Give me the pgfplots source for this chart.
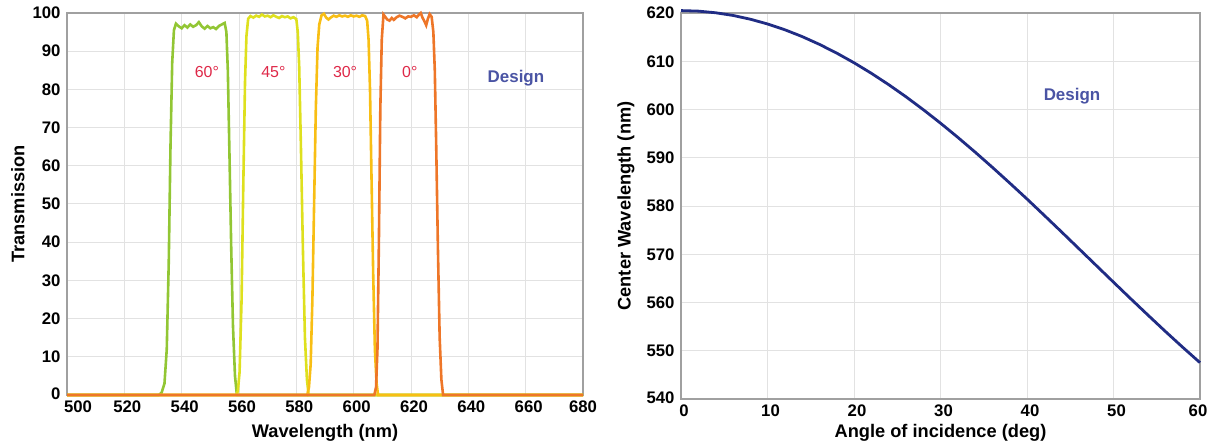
\documentclass[border=0pt]{standalone}
\usepackage{fontspec}
\setmainfont{Liberation Sans}
\usepackage{pgfplots}
\usepackage{pgfplotstable}
\pgfplotsset{compat=1.18}
\definecolor{cgreen}{RGB}{146,198,52}
\definecolor{cyellow}{RGB}{222,224,30}
\definecolor{cgold}{RGB}{248,190,20}
\definecolor{corange}{RGB}{238,118,40}
\definecolor{cnavy}{RGB}{32,44,132}
\definecolor{clab}{RGB}{222,40,72}
\definecolor{cdesign}{RGB}{74,84,164}
\definecolor{cgrid}{RGB}{226,226,226}
\definecolor{cframe}{RGB}{160,160,160}

\pgfplotstableread{
x y
500 0
532 0
533 0.6
534 3
534.8 12
535.5 35
536.1 65
536.7 87
537.3 95.5
538 97.2
539 96.5
540 96.0
541 96.8
542 96.2
543 97.0
544 96.4
545 96.8
546 97.6
547 96.5
548 95.9
549 96.6
550 96.0
551 96.3
552 95.8
553 96.6
554 97.0
555 97.4
555.6 95
556.1 85
556.7 62
557.3 38
557.9 18
558.6 5
559.2 0.5
559.5 0
680 0
}\tsixty

\pgfplotstableread{
x y
500 0
559 0
559.6 1
560.2 6
560.9 25
561.5 55
562.1 82
562.6 94
563.2 98.5
564 99.2
565 98.8
566 99.3
567 99.0
568 99.6
569 99.1
570 99.3
571 98.9
572 99.4
573 99.0
574 98.7
575 99.2
576 98.9
577 99.1
578 98.6
579 98.9
580 98.4
580.5 95
581 86
581.6 65
582.3 38
583 15
583.7 4
584.3 0
680 0
}\tfortyfive

\pgfplotstableread{
x y
500 0
583.8 0
584.4 2
585 8
585.6 25
586.2 50
586.8 75
587.4 91
588 97
588.8 99.4
589.6 99.8
590.4 98.8
591.2 98.3
592 98.8
593 99.3
594 99.0
595 99.4
596 99.1
597 99.3
598 99.0
599 99.4
600 99.1
601 99.3
602 99.0
603 99.4
604 99.2
604.7 98
605.2 93
605.7 80
606.2 58
606.8 32
607.4 12
608 3
608.5 0
680 0
}\tthirty

\pgfplotstableread{
x y
500 0
607.2 0
607.8 2
608.3 12
608.8 40
609.3 75
609.8 93
610.4 99.6
611 99.0
611.7 98.3
612.5 98.0
613.3 98.7
614 98.2
615 98.9
616 99.3
617 99.0
618 98.6
619 99.1
620 99.0
621 99.4
622 98.9
622.8 99.6
623.4 100
624 98.8
624.7 97.8
625.3 96.8
625.9 98.5
626.5 99.7
627.2 99.0
627.8 95
628.3 85
628.8 65
629.4 38
630 15
630.6 4
631.2 0
680 0
}\tzero

\pgfplotstableread{
x y
0 620.50
2 620.39
4 620.05
6 619.50
8 618.72
10 617.73
12 616.53
14 615.12
16 613.50
18 611.69
20 609.69
22 607.51
24 605.16
26 602.65
28 599.98
30 597.17
32 594.23
34 591.17
36 588.01
38 584.76
40 581.45
42 578.05
44 574.62
46 571.15
48 567.68
50 564.21
52 560.76
54 557.36
56 554.00
58 550.72
60 547.53
}\tcenter

\pgfplotsset{mystyle/.style={
  scale only axis,
  clip=false,
  axis line style={cframe,line width=1.5bp},
  grid=major,
  major grid style={cgrid,line width=1bp},
  major tick length=0pt,
  tick label style={font=\fontsize{16.8}{19}\selectfont\bfseries},
  label style={font=\fontsize{18.3}{21}\selectfont\bfseries},
  /pgf/number format/assume math mode=true,
  /pgf/number format/1000 sep={},
  xticklabel style={yshift=-2bp,xshift=3bp},
  yticklabel style={xshift=-3bp},
}}

\begin{document}
\begin{tikzpicture}
\path[use as bounding box] (0,0) rectangle (1209bp,445bp);

\begin{axis}[mystyle,
  at={(67bp,50bp)}, anchor=south west,
  width=516bp, height=382bp,
  xmin=500, xmax=680, ymin=0, ymax=100,
  xtick={500,520,...,680}, ytick={0,10,...,100},
  xticklabels={\hspace*{16bp}500,520,540,560,580,600,620,640,660,680\hspace*{6bp}},
  yticklabels={\raisebox{3bp}{0},10,20,30,40,50,60,70,80,90,100},
  xlabel={Wavelength (nm)}, ylabel={Transmission},
  xlabel style={at={(axis description cs:0.5,-0.0995)}, anchor=center},
  ylabel style={at={(axis description cs:-0.095,0.5)}, anchor=center},
]
\addplot[cgreen, line width=2.6bp] table[x=x,y=y] {\tsixty};
\addplot[cyellow, line width=2.6bp] table[x=x,y=y] {\tfortyfive};
\addplot[cgold, line width=2.6bp] table[x=x,y=y] {\tthirty};
\addplot[corange, line width=2.6bp] table[x=x,y=y] {\tzero};
\node[clab, font=\fontsize{16}{19}\selectfont] at (axis cs:548.8,84.5) {60°};
\node[clab, font=\fontsize{16}{19}\selectfont] at (axis cs:572,84.5) {45°};
\node[clab, font=\fontsize{16}{19}\selectfont] at (axis cs:597,84.5) {30°};
\node[clab, font=\fontsize{16}{19}\selectfont] at (axis cs:619.6,84.5) {0°};
\node[cdesign, font=\fontsize{17}{20}\selectfont\bfseries] at (axis cs:656.6,83) {Design};
\end{axis}

\begin{axis}[mystyle,
  at={(681bp,46bp)}, anchor=south west,
  width=519bp, height=386bp,
  xmin=0, xmax=60, ymin=540, ymax=620,
  xtick={0,10,...,60}, ytick={540,550,...,620},
  xticklabels={0,10,20,30,40,50,60\hspace*{10bp}},
  yticklabels={\raisebox{3bp}{540},550,560,570,580,590,600,610,620},
  xlabel={Angle of incidence (deg)}, ylabel={Center Wavelength (nm)},
  xlabel style={at={(axis description cs:0.5,-0.088)}, anchor=center},
  ylabel style={at={(axis description cs:-0.106,0.5)}, anchor=center},
]
\addplot[cnavy, line width=2.8bp] table[x=x,y=y] {\tcenter};
\node[cdesign, font=\fontsize{17}{20}\selectfont\bfseries] at (axis cs:45.2,602.8) {Design};
\end{axis}
\end{tikzpicture}
\end{document}
